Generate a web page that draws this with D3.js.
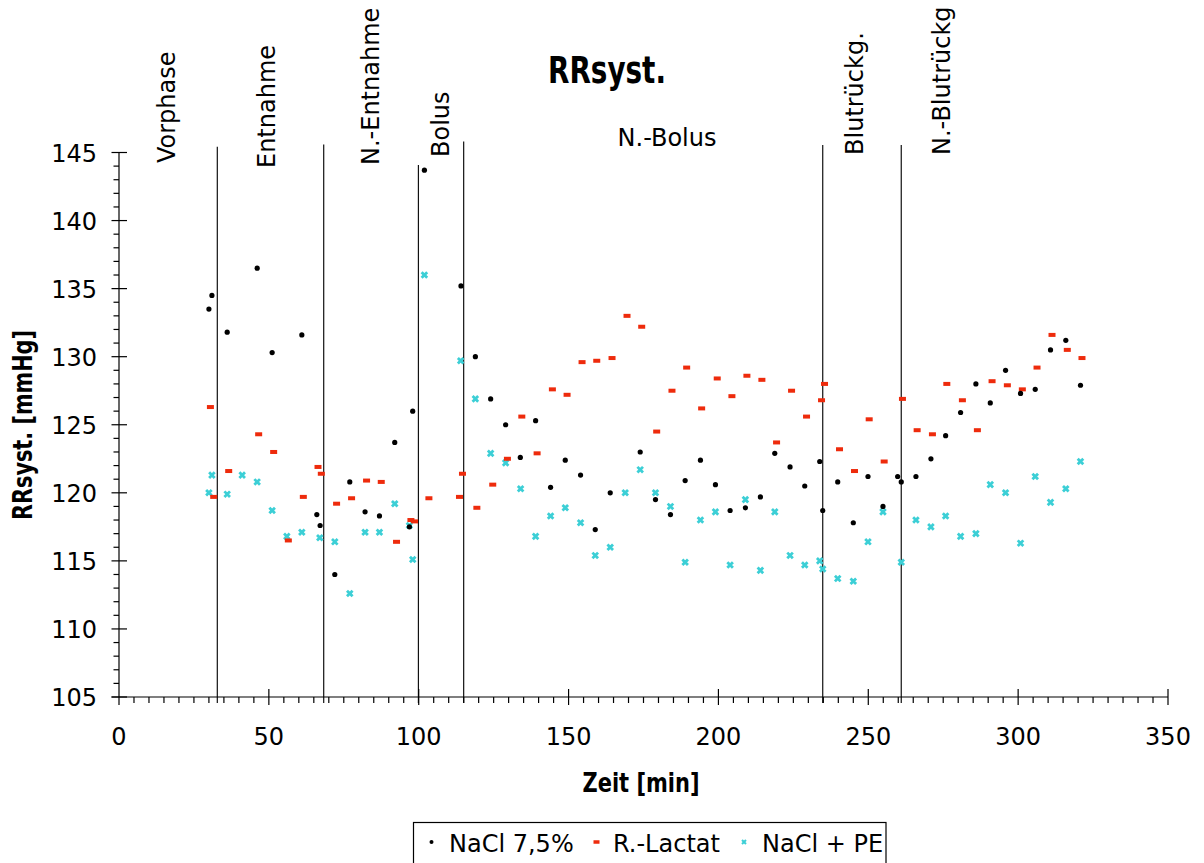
<!DOCTYPE html>
<html>
<head>
<meta charset="utf-8">
<script src="https://cdn.jsdelivr.net/npm/d3@7"></script>
<style>
  html, body { margin: 0; padding: 0; background: #fff; }
  svg { display: block; }
  text { font-family: "DejaVu Sans", "Noto Sans", sans-serif; fill: #000; }
</style>
</head>
<body>
<svg id="chart" width="1204" height="863"></svg>
<script>
// ---- Systolic blood pressure (RRsyst.) over time, three infusion groups ----

const timeNaCl = [30.0, 31.0, 36.1, 46.1, 51.1, 61.0, 66.0, 67.1, 72.0, 77.0, 82.1, 86.9, 92.0, 96.9, 98.0,
  101.9, 114.1, 118.9, 124.0, 129.0, 133.9, 139.0, 144.0, 148.9, 154.0, 158.9, 163.9, 173.9, 179.0, 184.0,
  188.9, 194.0, 199.0, 203.9, 209.0, 214.0, 218.8, 223.9, 228.8, 233.8, 234.8, 239.8, 245.0, 249.9, 254.9,
  259.8, 261.0, 265.9, 270.9, 275.8, 280.8, 285.9, 290.7, 295.8, 300.8, 305.7, 310.8, 315.9, 320.8];
const valueNaCl = [133.5, 134.5, 131.8, 136.5, 130.3, 131.6, 118.4, 117.6, 114.0, 120.8, 118.6, 118.3, 123.7, 117.5, 126.0,
  143.7, 135.2, 130.0, 126.9, 125.0, 122.6, 125.3, 120.4, 122.4, 121.3, 117.3, 120.0, 123.0, 119.5, 118.4,
  120.9, 122.4, 120.6, 118.7, 118.9, 119.7, 122.9, 121.9, 120.5, 122.3, 118.7, 120.8, 117.8, 121.2, 119.0,
  121.2, 120.8, 121.2, 122.5, 124.2, 125.9, 128.0, 126.6, 129.0, 127.3, 127.6, 130.5, 131.2, 127.9];

const timeLactat = [30.5, 31.6, 36.6, 46.6, 51.6, 56.5, 61.5, 66.4, 67.5, 72.6, 77.6, 82.6, 87.5, 92.6, 97.4,
  98.6, 103.4, 113.6, 114.6, 119.4, 124.7, 129.6, 134.4, 139.5, 144.6, 149.5, 154.5, 159.4, 164.5, 169.5,
  174.4, 179.4, 184.5, 189.4, 194.4, 199.6, 204.5, 209.5, 214.5, 219.4, 224.4, 229.4, 234.4, 235.4, 240.4,
  245.4, 250.3, 255.3, 261.4, 266.3, 271.4, 276.2, 281.4, 286.4, 291.3, 296.4, 301.4, 306.3, 311.3, 316.4, 321.3];
const valueLactat = [126.3, 119.7, 121.6, 124.3, 123.0, 116.5, 119.7, 121.9, 121.4, 119.2, 119.6, 120.9, 120.8, 116.4, 118.0,
  117.9, 119.6, 119.7, 121.4, 118.9, 120.6, 122.5, 125.6, 122.9, 127.6, 127.2, 129.6, 129.7, 129.9, 133.0,
  132.2, 124.5, 127.5, 129.2, 126.2, 128.4, 127.1, 128.6, 128.3, 123.7, 127.5, 125.6, 126.8, 128.0, 123.2,
  121.6, 125.4, 122.3, 126.9, 124.6, 124.3, 128.0, 126.8, 124.6, 128.2, 127.9, 127.6, 129.2, 131.6, 130.5, 129.9];

const timePE = [30.0, 31.0, 36.1, 41.1, 46.1, 51.1, 56.0, 61.0, 67.0, 72.0, 77.0, 82.1, 86.9, 92.0, 96.9,
  98.0, 101.9, 114.0, 118.9, 124.0, 129.0, 134.0, 139.0, 144.0, 148.9, 154.0, 158.9, 163.9, 168.9, 173.9,
  179.0, 184.0, 188.9, 194.0, 199.0, 203.9, 209.0, 214.0, 218.8, 223.9, 228.8, 233.8, 234.8, 239.8, 245.0,
  249.9, 254.9, 261.0, 265.9, 270.9, 275.8, 280.8, 285.9, 290.7, 295.8, 300.8, 305.7, 310.8, 315.9, 320.8];
const valuePE = [120.0, 121.3, 119.9, 121.3, 120.8, 118.7, 116.8, 117.1, 116.7, 116.4, 112.6, 117.1, 117.1, 119.2, 117.6,
  115.1, 136.0, 129.7, 126.9, 122.9, 122.2, 120.3, 116.8, 118.3, 118.9, 117.8, 115.4, 116.0, 120.0, 121.7,
  120.0, 119.0, 114.9, 118.0, 118.6, 114.7, 119.5, 114.3, 118.6, 115.4, 114.7, 115.0, 114.4, 113.7, 113.5,
  116.4, 118.6, 114.9, 118.0, 117.5, 118.3, 116.8, 117.0, 120.6, 120.0, 116.3, 121.2, 119.3, 120.3, 122.3];

const seriesNames = ["NaCl 7,5%", "R.-Lactat", "NaCl + PE"];

// phase boundaries (min) and phase names
const phaseBounds = [32.8, 68.3, 99.9, 115.0, 234.8, 261.0];
const phaseNames = ["Vorphase", "Entnahme", "N.-Entnahme", "Bolus", "N.-Bolus", "Blutrückg.", "N.-Blutrückg"];

const xTickValues = [0, 50, 100, 150, 200, 250, 300, 350];
const yTickValues = [105, 110, 115, 120, 125, 130, 135, 140, 145];

// ---- layout ----
const svg = d3.select("#chart");
const x = d3.scaleLinear().domain([0, 350]).range([119, 1168]);
const y = d3.scaleLinear().domain([105, 145]).range([697, 152.5]);

const COL_BLACK = "#000";
const COL_RED = "#ee2b0c";
const COL_CYAN = "#3ccfd6";

// phase separator lines: their top ends differ slightly
const lineTops = [146.7, 144.5, 165, 141.5, 145, 145];
svg.append("g").selectAll("line")
  .data(phaseBounds)
  .join("line")
  .attr("x1", d => x(d)).attr("x2", d => x(d))
  .attr("y1", (d, i) => lineTops[i]).attr("y2", 703)
  .attr("stroke", "#111").attr("stroke-width", 1.2);

// axes
const axes = svg.append("g").attr("stroke", "#000").attr("stroke-width", 1.2);
axes.append("line").attr("x1", x(0)).attr("x2", x(0)).attr("y1", y(145)).attr("y2", y(105));
axes.append("line").attr("x1", 111.5).attr("x2", x(350)).attr("y1", y(105)).attr("y2", y(105));

// y ticks: minor every 1, major every 5
axes.append("g").selectAll("line")
  .data(d3.range(105, 146).filter(v => v % 5 !== 0))
  .join("line")
  .attr("x1", 113.5).attr("x2", x(0))
  .attr("y1", d => y(d)).attr("y2", d => y(d));
axes.append("g").selectAll("line")
  .data(yTickValues)
  .join("line")
  .attr("x1", 111.5).attr("x2", 127)
  .attr("y1", d => y(d)).attr("y2", d => y(d));

// x ticks: minor every 5, major every 50
axes.append("g").selectAll("line")
  .data(d3.range(5, 350, 5).filter(v => v % 50 !== 0))
  .join("line")
  .attr("x1", d => x(d)).attr("x2", d => x(d))
  .attr("y1", y(105)).attr("y2", y(105) + 6);
axes.append("g").selectAll("line")
  .data(xTickValues)
  .join("line")
  .attr("x1", d => x(d)).attr("x2", d => x(d))
  .attr("y1", d => d === 0 ? y(105) : y(105) - 8).attr("y2", y(105) + 8);

// tick labels
svg.append("g").selectAll("text")
  .data(yTickValues)
  .join("text")
  .attr("x", 97).attr("y", d => y(d) + 9)
  .attr("text-anchor", "end")
  .attr("font-size", 24)
  .text(d => d);
svg.append("g").selectAll("text")
  .data(xTickValues)
  .join("text")
  .attr("x", d => x(d)).attr("y", 745)
  .attr("text-anchor", "middle")
  .attr("font-size", 24)
  .text(d => d);

// axis titles
svg.append("text")
  .attr("x", 641).attr("y", 792)
  .attr("text-anchor", "middle")
  .attr("font-size", 26).attr("font-weight", "bold")
  .attr("textLength", 117).attr("lengthAdjust", "spacingAndGlyphs")
  .text("Zeit [min]");
svg.append("text")
  .attr("transform", "translate(32,425) rotate(-90)")
  .attr("text-anchor", "middle")
  .attr("font-size", 27).attr("font-weight", "bold")
  .attr("textLength", 190).attr("lengthAdjust", "spacingAndGlyphs")
  .text("RRsyst. [mmHg]");

// chart title
svg.append("text")
  .attr("x", 607).attr("y", 83)
  .attr("text-anchor", "middle")
  .attr("font-size", 38).attr("font-weight", "bold")
  .attr("textLength", 118).attr("lengthAdjust", "spacingAndGlyphs")
  .text("RRsyst.");

// phase names: rotated ones anchored at their lower end, one horizontal
const phaseLabelLayout = [
  { bx: 175, by: 163, rot: true },
  { bx: 275, by: 168, rot: true },
  { bx: 379, by: 165, rot: true },
  { bx: 449, by: 157, rot: true },
  { bx: 667, by: 146, rot: false },
  { bx: 863, by: 155, rot: true },
  { bx: 950, by: 155, rot: true }
];
svg.append("g").selectAll("text")
  .data(phaseNames)
  .join("text")
  .attr("transform", (d, i) => {
    const p = phaseLabelLayout[i];
    return p.rot ? `translate(${p.bx},${p.by}) rotate(-90)` : `translate(${p.bx},${p.by})`;
  })
  .attr("text-anchor", (d, i) => phaseLabelLayout[i].rot ? "start" : "middle")
  .attr("font-size", 24)
  .text(d => d);

// ---- markers ----
function drawDot(g, cx, cy, r) {
  g.append("circle").attr("cx", cx).attr("cy", cy).attr("r", r).attr("fill", COL_BLACK);
}
function drawDash(g, cx, cy, w, h) {
  g.append("rect").attr("x", cx - w / 2).attr("y", cy - h / 2).attr("width", w).attr("height", h).attr("fill", COL_RED);
}
function drawCross(g, cx, cy, s, sw) {
  g.append("path")
    .attr("d", `M${cx - s},${cy - s}L${cx + s},${cy + s}M${cx - s},${cy + s}L${cx + s},${cy - s}`)
    .attr("stroke", COL_CYAN).attr("stroke-width", sw).attr("fill", "none");
}

const gPE = svg.append("g");
timePE.forEach((t, i) => drawCross(gPE, x(t), y(valuePE[i]), 2.8, 2.8));
const gLac = svg.append("g");
timeLactat.forEach((t, i) => drawDash(gLac, x(t), y(valueLactat[i]), 7, 4));
const gNaCl = svg.append("g");
timeNaCl.forEach((t, i) => drawDot(gNaCl, x(t), y(valueNaCl[i]), 2.6));

// ---- legend ----
const legend = svg.append("g");
legend.append("rect")
  .attr("x", 413.5).attr("y", 822.5).attr("width", 472.5).attr("height", 50)
  .attr("fill", "#fff").attr("stroke", "#000").attr("stroke-width", 1.2);
const legendItems = [
  { mx: 431.5, tx: 449 },
  { mx: 596.5, tx: 613 },
  { mx: 744, tx: 762 }
];
drawDot(legend, legendItems[0].mx, 842, 2);
drawDash(legend, legendItems[1].mx, 842, 6, 3.5);
drawCross(legend, legendItems[2].mx, 842, 2, 2);
legend.selectAll("text.lbl")
  .data(seriesNames)
  .join("text")
  .attr("class", "lbl")
  .attr("x", (d, i) => legendItems[i].tx).attr("y", 852)
  .attr("font-size", 24)
  .text(d => d);
</script>
</body>
</html>
